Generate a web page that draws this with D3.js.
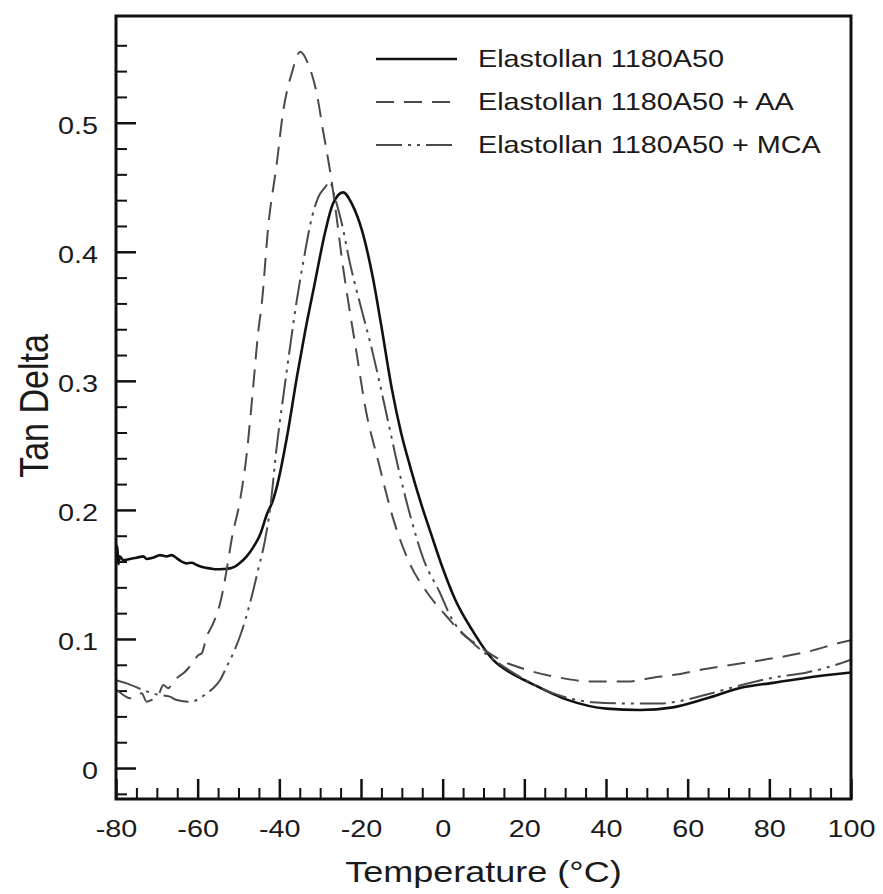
<!DOCTYPE html>
<html>
<head>
<meta charset="utf-8">
<script src="https://cdn.jsdelivr.net/npm/d3@7"></script>
<style>
  body { margin: 0; background: #fff; }
  text { font-family: "Liberation Sans", Arial, Helvetica, sans-serif; fill: #1a1a1a; }
</style>
</head>
<body>
<div id="chart"></div>
<script>
// tan delta vs temperature
const seriesNames = ['Elastollan 1180A50', 'Elastollan 1180A50 + AA', 'Elastollan 1180A50 + MCA'];

const xMajorTicks = [-80, -60, -40, -20, 0, 20, 40, 60, 80, 100];
const yMajorTicks = [0, 0.1, 0.2, 0.3, 0.4, 0.5];

// [temperature, tan delta]
const baseCurve = [
  [-80, 0.168], [-79.7, 0.172], [-79.4, 0.158], [-79.1, 0.164], [-78.2, 0.161], [-76.6, 0.162],
  [-74.9, 0.163], [-73.3, 0.164], [-72.5, 0.162], [-70.9, 0.163], [-69.2, 0.165], [-67.6, 0.164],
  [-66.4, 0.165], [-65.1, 0.1625], [-63.9, 0.160], [-62.7, 0.1586], [-61.5, 0.159], [-60.2, 0.1573],
  [-58.6, 0.1555], [-57.0, 0.1547], [-55.3, 0.154], [-53.7, 0.1542], [-52.1, 0.1547], [-50.9, 0.156],
  [-49.6, 0.159], [-48.0, 0.164], [-46.4, 0.171], [-44.7, 0.181], [-43.0, 0.197], [-41.6, 0.207],
  [-40.6, 0.218], [-38.1, 0.257], [-35.7, 0.303], [-33.7, 0.338], [-31.3, 0.376], [-28.8, 0.415],
  [-26.9, 0.437], [-24.4, 0.446], [-22.2, 0.437], [-19.8, 0.417], [-17.1, 0.380], [-15.1, 0.344],
  [-12.4, 0.293], [-10.2, 0.260], [-8.0, 0.234], [-5.4, 0.206], [-2.9, 0.182], [0, 0.155],
  [3.0, 0.131], [7.2, 0.107], [12.3, 0.084], [16.5, 0.074], [21.4, 0.066], [30.4, 0.053],
  [40.2, 0.046], [48.3, 0.045], [56.4, 0.047], [64.7, 0.054], [72.8, 0.062], [80.9, 0.066],
  [89.2, 0.070], [100, 0.074]
];

const aaCurve = [
  [-80, 0.061], [-78.2, 0.0566], [-76.6, 0.054], [-74.9, 0.0553], [-73.7, 0.0579], [-72.5, 0.0514],
  [-71.3, 0.0527], [-69.6, 0.0566], [-68.4, 0.0643], [-67.2, 0.0618], [-66.0, 0.0669], [-64.7, 0.0708],
  [-63.5, 0.0734], [-62.3, 0.0773], [-61.1, 0.0824], [-59.8, 0.0876], [-59.0, 0.0889], [-57.8, 0.1017],
  [-56.2, 0.1121], [-54.5, 0.1276], [-52.9, 0.1534], [-51.7, 0.1767], [-49.6, 0.208], [-48.0, 0.243],
  [-46.7, 0.285], [-45.2, 0.337], [-44.2, 0.363], [-42.8, 0.417], [-40.6, 0.469], [-39.1, 0.508],
  [-36.9, 0.539], [-34.9, 0.555], [-33.0, 0.546], [-30.8, 0.522], [-29.3, 0.494], [-27.6, 0.463],
  [-26.1, 0.430], [-24.7, 0.395], [-23.2, 0.363], [-21.2, 0.324], [-18.8, 0.277], [-15.8, 0.238],
  [-12.2, 0.194], [-8.0, 0.158], [-3.8, 0.136], [1.1, 0.117], [4.5, 0.105], [9.1, 0.094],
  [14.0, 0.084], [20.7, 0.076], [28.7, 0.070], [36.8, 0.067], [45.1, 0.067], [51.5, 0.070],
  [56.4, 0.072], [64.7, 0.077], [72.8, 0.081], [80.9, 0.085], [89.2, 0.090], [97.3, 0.097],
  [100, 0.099]
];

const mcaCurve = [
  [-80, 0.068], [-77.4, 0.0656], [-73.3, 0.0604], [-70.0, 0.057], [-66.8, 0.0553], [-65.1, 0.0527],
  [-61.9, 0.0514], [-60.2, 0.0527], [-57.8, 0.0579], [-56.2, 0.0618], [-54.5, 0.0682], [-52.9, 0.0785],
  [-51.3, 0.0889], [-49.2, 0.106], [-47.2, 0.1276], [-45.2, 0.1534], [-43.5, 0.1767], [-42.3, 0.200],
  [-40.6, 0.250], [-38.6, 0.298], [-36.9, 0.337], [-35.7, 0.363], [-34.2, 0.391], [-32.0, 0.427],
  [-30.5, 0.442], [-28.8, 0.450], [-27.6, 0.454], [-26.4, 0.442], [-24.7, 0.422], [-22.7, 0.391],
  [-20.5, 0.363], [-17.3, 0.324], [-13.6, 0.272], [-10.9, 0.233], [-7.8, 0.194], [-4.6, 0.161],
  [-0.7, 0.136], [2.0, 0.117], [7.4, 0.097], [12.0, 0.085], [17.2, 0.074], [27.0, 0.058],
  [36.8, 0.051], [46.6, 0.050], [53.2, 0.050], [56.4, 0.051], [64.7, 0.057], [72.8, 0.064],
  [80.9, 0.070], [89.2, 0.074], [97.3, 0.081], [100, 0.084]
];

const drawChart = () => {
  const width = 883, height = 894;
  const left = 116, right = 851, top = 16, bottom = 799;
  const sx = 1.2; // the scan is stretched sideways, so is the lettering

  const svg = d3.select('#chart').append('svg')
    .attr('width', width)
    .attr('height', height);

  svg.append('rect').attr('width', width).attr('height', height).attr('fill', '#fff');

  const x = d3.scaleLinear().domain([-80, 100]).range([left, right]);
  const y = d3.scaleLinear().domain([-0.024, 0.5827]).range([bottom, top]);

  // minor ticks first
  const xMinor = d3.range(-75, 100, 5).filter(d => d % 20 !== 0);
  const yMinor = d3.range(-0.02, 0.57, 0.02).filter(d => Math.abs(d * 10 - Math.round(d * 10)) > 0.01);

  svg.append('g')
    .attr('transform', `translate(0,${bottom})`)
    .call(d3.axisBottom(x).tickValues(xMinor).tickSize(-11).tickFormat(''))
    .call(g => g.select('.domain').remove())
    .call(g => g.selectAll('line').attr('stroke', '#111').attr('stroke-width', 2));

  svg.append('g')
    .attr('transform', `translate(${left},0)`)
    .call(d3.axisLeft(y).tickValues(yMinor).tickSize(-11).tickFormat(''))
    .call(g => g.select('.domain').remove())
    .call(g => g.selectAll('line').attr('stroke', '#111').attr('stroke-width', 2));

  // major ticks + labels
  svg.append('g')
    .attr('transform', `translate(0,${bottom})`)
    .call(d3.axisBottom(x).tickValues(xMajorTicks).tickSize(-20).tickPadding(21).tickFormat(d => String(d)))
    .call(g => g.select('.domain').remove())
    .call(g => g.selectAll('line').attr('stroke', '#111').attr('stroke-width', 2.5))
    .call(g => g.selectAll('text')
      .attr('font-size', 24)
      .attr('font-family', '"Liberation Sans", Arial, sans-serif')
      .attr('fill', '#1a1a1a')
      .attr('transform', `scale(${sx},1)`));

  svg.append('g')
    .attr('transform', `translate(${left},0)`)
    .call(d3.axisLeft(y).tickValues(yMajorTicks).tickSize(-20).tickPadding(15)
      .tickFormat(d => d === 0 ? '0' : d.toFixed(1)))
    .call(g => g.select('.domain').remove())
    .call(g => g.selectAll('line').attr('stroke', '#111').attr('stroke-width', 2.5))
    .call(g => g.selectAll('text')
      .attr('font-size', 24)
      .attr('font-family', '"Liberation Sans", Arial, sans-serif')
      .attr('fill', '#1a1a1a')
      .attr('dy', '0.45em')
      .attr('transform', `scale(${sx},1)`));

  // curves
  const line = d3.line()
    .x(d => x(d[0]))
    .y(d => y(d[1]))
    .curve(d3.curveMonotoneX);

  const styles = [
    {data: baseCurve, color: '#111', w: 2.6, dash: null},
    {data: aaCurve, color: '#4a4a4a', w: 2, dash: '18,10'},
    {data: mcaCurve, color: '#4a4a4a', w: 2, dash: '26,6,3,6,3,6'}
  ];

  svg.append('defs').append('clipPath').attr('id', 'plotclip')
    .append('rect').attr('x', left).attr('y', top).attr('width', right - left).attr('height', bottom - top);

  const plot = svg.append('g').attr('clip-path', 'url(#plotclip)');
  styles.forEach(s => {
    plot.append('path')
      .datum(s.data)
      .attr('d', line)
      .attr('fill', 'none')
      .attr('stroke', s.color)
      .attr('stroke-width', s.w)
      .attr('stroke-linejoin', 'round')
      .attr('stroke-dasharray', s.dash);
  });

  // frame
  svg.append('rect')
    .attr('x', left).attr('y', top)
    .attr('width', right - left).attr('height', bottom - top)
    .attr('fill', 'none')
    .attr('stroke', '#111')
    .attr('stroke-width', 3);

  // legend
  const legendY = [59, 102, 145];
  const leg = svg.append('g');
  styles.forEach((s, i) => {
    leg.append('line')
      .attr('x1', 376).attr('x2', 457)
      .attr('y1', legendY[i]).attr('y2', legendY[i])
      .attr('stroke', s.color)
      .attr('stroke-width', s.w)
      .attr('stroke-dasharray', s.dash);
    leg.append('text')
      .attr('transform', `translate(478,${legendY[i]}) scale(${sx},1)`)
      .attr('dy', '0.35em')
      .attr('font-size', 24)
      .text(seriesNames[i]);
  });

  // axis titles
  svg.append('text')
    .attr('transform', `translate(${(left + right) / 2},882) scale(${sx},1)`)
    .attr('text-anchor', 'middle')
    .attr('font-size', 30)
    .text('Temperature (°C)');

  svg.append('text')
    .attr('transform', `translate(48,406) scale(${sx},1) rotate(-90)`)
    .attr('text-anchor', 'middle')
    .attr('font-size', 34)
    .text('Tan Delta');
};

drawChart();
</script>
</body>
</html>
